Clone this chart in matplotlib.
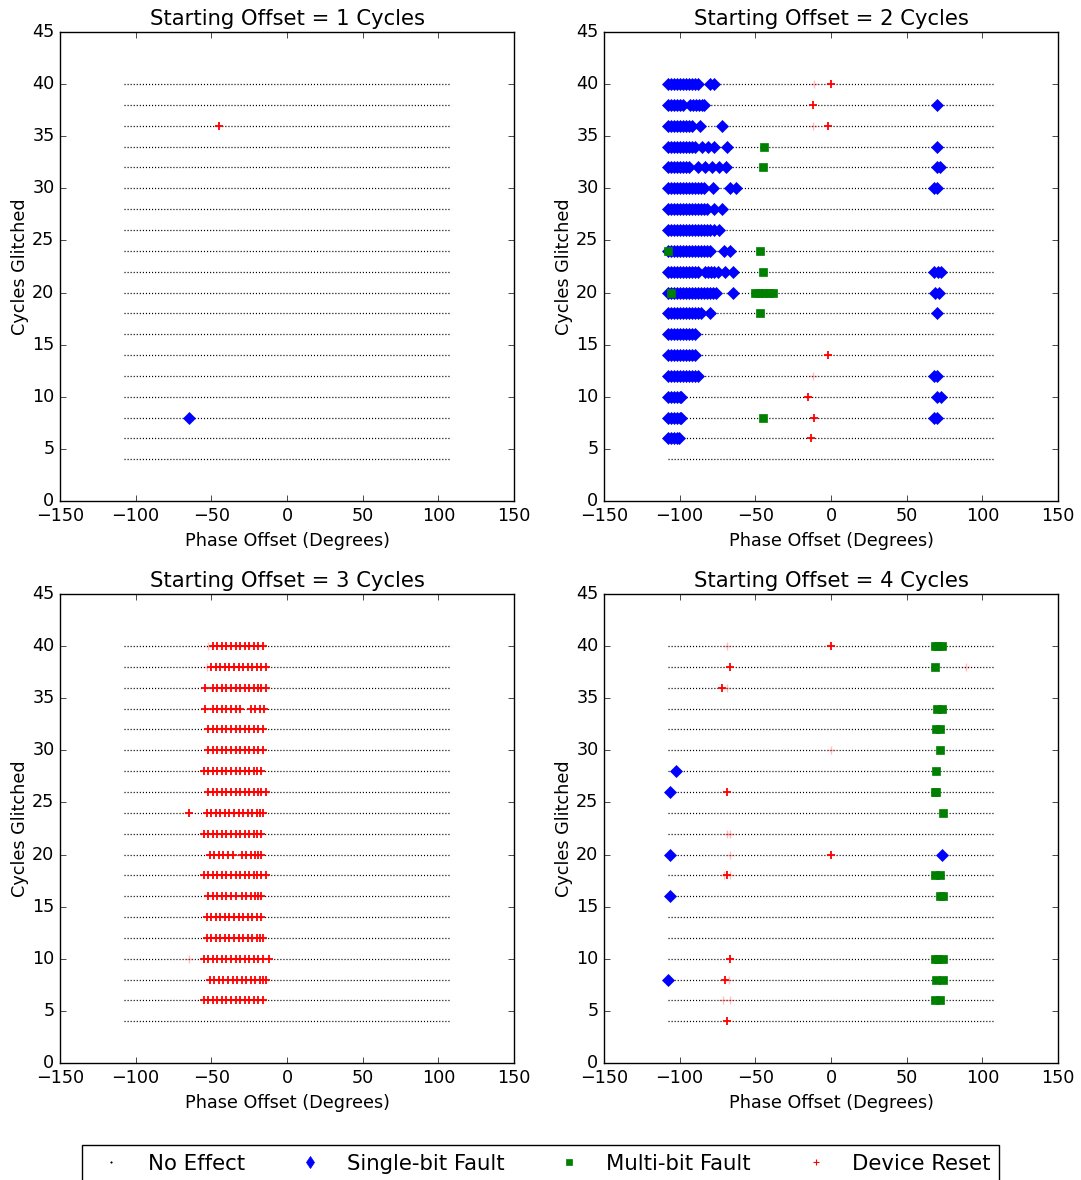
import matplotlib
matplotlib.use("Agg")
import matplotlib.pyplot as plt
from matplotlib.lines import Line2D

# sweep grid: every panel scans these rows over the same phase window
ROWS = [4, 6, 8, 10, 12, 14, 16, 18, 20, 22, 24, 26, 28, 30, 32, 34, 36, 38, 40]
SWEEP = [-108, 108]

OFFSETS = [1, 2, 3, 4]
LABELS = ["No Effect", "Single-bit Fault", "Multi-bit Fault", "Device Reset"]

# ---- offset 1
P1_SINGLE = {8: [-65]}
P1_MULTI = {}
P1_RESET = {36: [-45]}
P1_RESET_FAINT = {}

# ---- offset 2
P2_SINGLE = {
    40: [-108, -106, -104, -102, -100, -98, -96, -94, -92, -90, -88, -80, -77],
    38: [-108, -106, -104, -102, -100, -98, -93, -91, -89, -87, -85, -84, 70],
    36: [-108, -106, -104, -102, -100, -98, -96, -94, -92, -86.5, -72],
    34: [-108, -106, -104, -102, -100, -98, -96, -94, -92, -90, -85, -81, -77,
         -68.5, 70],
    32: [-108, -106, -104, -102, -100, -98, -96, -94, -88, -83, -78.5, -74, -69.5,
         70, 72],
    30: [-108, -106, -104, -102, -100, -98, -96, -94, -92, -90, -88, -86, -84, -78,
         -67, -63, 68, 70],
    28: [-108, -106, -104, -102, -100, -98, -96, -94, -92, -90, -88, -86, -84, -82,
         -77, -72],
    26: [-108, -106, -104, -102, -100, -98, -96, -94, -92, -90, -88, -86, -84, -82,
         -80, -77, -74],
    24: [-108, -106, -104, -102, -100, -98, -96, -94, -92, -90, -88, -86, -84, -82,
         -80, -70.5, -66.5],
    22: [-108, -106, -104, -102, -100, -98, -96, -94, -92, -90, -88, -83, -81, -79,
         -77, -75, -70, -64.5, 68, 71, 73],
    20: [-108, -106, -104, -102, -100, -98, -96, -94, -92, -90, -88, -86, -84, -82,
         -80, -78, -76, -64.5, 68.5, 71.5],
    18: [-108, -106, -104, -102, -100, -98, -96, -94, -92, -90, -88, -86, -80, 70],
    16: [-108, -106, -104, -102, -100, -98, -96, -94, -92, -90],
    14: [-108, -106, -104, -102, -100, -98, -96, -94, -92, -90],
    12: [-108, -106, -104, -102, -100, -98, -96, -94, -92, -90, -88, 68, 70],
    10: [-108, -106, -104, -102, -100, -99, 70, 73],
    8: [-108, -106, -104, -102, -100, -99, 68, 70],
    6: [-108, -106, -104, -102, -100.5],
}
P2_MULTI = {
    34: [-44], 32: [-45], 24: [-108, -47], 22: [-45],
    20: [-106, -50.5, -47.5, -44.5, -41, -38], 18: [-47], 8: [-45],
}
P2_RESET = {40: [0], 38: [-12], 36: [-2], 14: [-2], 10: [-15], 8: [-11], 6: [-13]}
P2_RESET_FAINT = {40: [-11], 36: [-12], 12: [-12]}

# ---- offset 3
P3_RESET = {
    40: [-49, -46, -43, -40, -37, -34, -31, -28, -25, -22, -19, -16],
    38: [-50, -47, -44, -41, -38, -35, -32, -29, -26, -23, -20, -17, -14],
    36: [-54, -49, -46, -43, -40, -37, -34, -31, -28, -25, -22, -19, -17, -14],
    34: [-54, -49, -46, -43, -40, -37, -34, -31, -24, -21, -18, -15],
    32: [-52, -49, -46, -43, -40, -37, -34, -31, -28, -25, -22, -19, -16],
    30: [-52, -49, -46, -43, -40, -37, -34, -31, -28, -25, -22, -19, -16],
    28: [-55, -52, -49, -46, -43, -40, -37, -34, -31, -28, -25, -22, -20, -17],
    26: [-52, -49, -46, -43, -40, -37, -34, -31, -28, -25, -22, -19, -17, -14],
    24: [-64.5, -53, -50, -47, -44, -41, -38, -35, -32, -29, -26, -23, -20, -18, -16],
    22: [-55, -52, -49, -46, -43, -40, -37, -34, -31, -28, -25, -22, -20, -17],
    20: [-51, -48, -45, -42, -39, -36, -30, -27, -24, -21, -19, -17],
    18: [-55, -52, -49, -46, -43, -40, -37, -34, -31, -28, -25, -22, -20, -17, -14],
    16: [-52, -49, -46, -43, -40, -37, -34, -30, -27, -24, -21, -19, -17],
    14: [-53, -50, -47, -44, -41, -38, -35, -32, -29, -26, -23, -20, -17],
    12: [-53, -50, -47, -44, -41, -38, -35, -32, -29, -26, -23, -20, -18, -16],
    10: [-55, -52, -49, -46, -43, -40, -37, -34, -31, -28, -25, -22, -19, -16, -12],
    8: [-51, -48, -45, -42, -39, -36, -33, -30, -27, -24, -21, -18, -16, -14],
    6: [-55, -52, -49, -46, -43, -40, -37, -34, -31, -28, -25, -22, -19, -16],
}
P3_RESET_FAINT = {40: [-52], 38: [-53], 10: [-64.5]}

# ---- offset 4
P4_SINGLE = {28: [-102.5], 26: [-106.5], 20: [-106.5, 73.5], 16: [-106.5], 8: [-108]}
P4_MULTI = {
    40: [68.5, 71, 73.5], 38: [68.5], 34: [70, 73.5], 32: [69.7, 71.7],
    30: [71.7], 28: [69.7], 26: [68.4, 69.7], 24: [73.7], 18: [68.4, 71.7],
    16: [71.7, 73.7], 10: [68.4, 71, 73.7], 8: [69.7, 73.7], 6: [68.4, 71.7],
}
P4_RESET = {40: [0], 38: [-67], 36: [-72], 26: [-68.5], 20: [0], 18: [-68.5],
            10: [-66.7], 8: [-70.3], 4: [-68.5]}
P4_RESET_FAINT = {40: [-68.5], 38: [89], 36: [-68.5], 30: [0], 22: [-68.5, -67],
                  20: [-67], 18: [-70.5, -66.5], 8: [-67.5], 6: [-71.5, -66.7]}

PANELS = [
    (P1_SINGLE, P1_MULTI, P1_RESET, P1_RESET_FAINT),
    (P2_SINGLE, P2_MULTI, P2_RESET, P2_RESET_FAINT),
    ({}, {}, P3_RESET, P3_RESET_FAINT),
    (P4_SINGLE, P4_MULTI, P4_RESET, P4_RESET_FAINT),
]


def flat(d):
    xs, ys = [], []
    for row, phases in d.items():
        xs += list(phases)
        ys += [row] * len(phases)
    return xs, ys


plt.style.use("classic")
plt.rcParams["font.family"] = ["DejaVu Sans"]

fig = plt.figure(figsize=(10.81, 11.8), dpi=100, facecolor="white")
W, H = 1081.0, 1180.0
rects = [(60, 32), (604, 32), (60, 594), (604, 594)]
aw, ah = 454, 469

for k, (off, (single, multi, reset, faint)) in enumerate(zip(OFFSETS, PANELS)):
    x0, y0 = rects[k]
    ax = fig.add_axes([x0 / W, 1 - (y0 + ah) / H, aw / W, ah / H])

    for r in ROWS:
        ax.plot(SWEEP, [r, r], color="black", lw=0.9, ls=(0, (0.8, 1.4)), zorder=1)

    xs, ys = flat(single)
    ax.plot(xs, ys, "D", color="blue", mec="blue", ms=6, mew=0.5, zorder=2)
    xs, ys = flat(multi)
    ax.plot(xs, ys, "s", color="green", mec="green", ms=6, mew=0.5, zorder=3)
    xs, ys = flat(faint)
    ax.plot(xs, ys, "+", color="red", ms=6, mew=1.0, alpha=0.25, zorder=4)
    xs, ys = flat(reset)
    ax.plot(xs, ys, "+", color="red", ms=6, mew=1.3, zorder=5)

    ax.set_xlim(-150, 150)
    ax.set_ylim(0, 45)
    ax.set_xticks([-150, -100, -50, 0, 50, 100, 150])
    ax.set_yticks(range(0, 46, 5))
    ax.tick_params(labelsize=12.7)
    ax.set_title(f"Starting Offset = {off} Cycles", fontsize=15.2)
    ax.set_xlabel("Phase Offset (Degrees)", fontsize=12.7)
    ax.set_ylabel("Cycles Glitched", fontsize=12.7, labelpad=2)

handles = [
    Line2D([], [], ls="none", marker=".", color="black", ms=2),
    Line2D([], [], ls="none", marker="d", color="blue", mec="blue", ms=6),
    Line2D([], [], ls="none", marker="s", color="green", mec="green", ms=4),
    Line2D([], [], ls="none", marker="+", color="red", ms=5, mew=0.8),
]
fig.legend(handles, LABELS, loc="upper center", ncol=4, numpoints=1,
           bbox_to_anchor=(0.5, 1 - 1145 / H), borderaxespad=0, fontsize=15.3,
           columnspacing=2.05, handlelength=2.0, handletextpad=0.73,
           borderpad=0.4)

fig.savefig("out.png", dpi=100, facecolor="white")
